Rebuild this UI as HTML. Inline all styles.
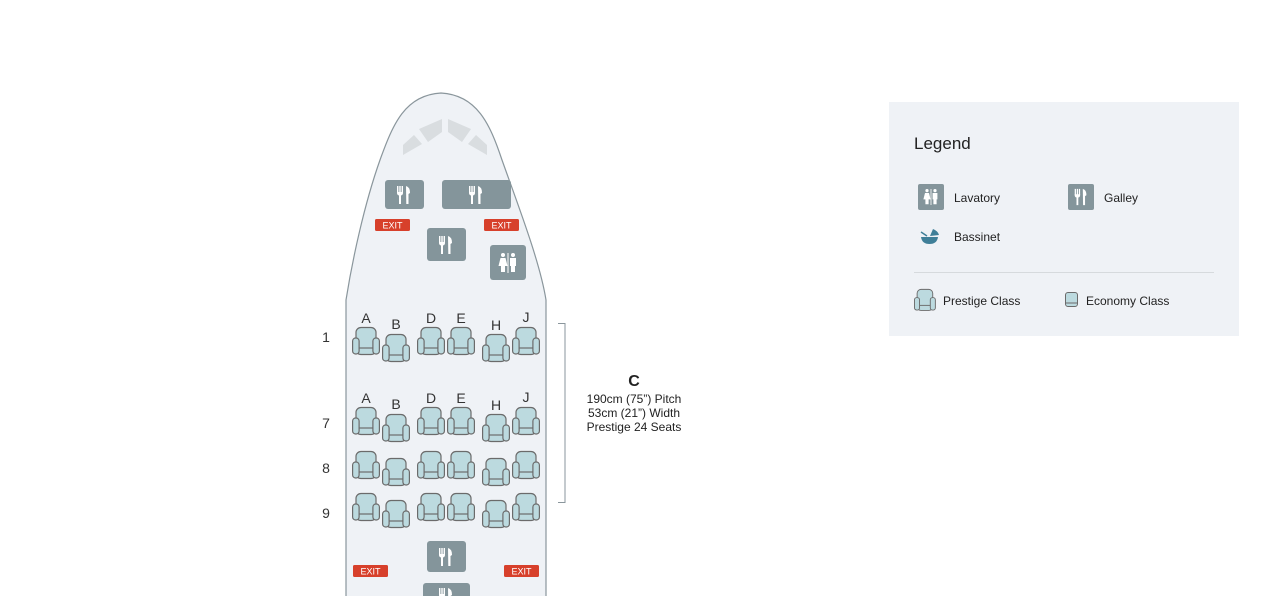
<!DOCTYPE html>
<html><head><meta charset="utf-8"><style>
html,body{margin:0;padding:0;background:#fff;width:1276px;height:596px;overflow:hidden}
svg{display:block;font-family:"Liberation Sans",sans-serif}
</style></head><body>
<svg width="1276" height="596" viewBox="0 0 1276 596" xmlns="http://www.w3.org/2000/svg">
<defs>
<g id="seat">
<rect x="4" y="0.5" width="20" height="27" rx="5" fill="#bcdadf" stroke="#6b6b6b" stroke-width="1.2"/>
<line x1="6" y1="21" x2="22" y2="21" stroke="#6b6b6b" stroke-width="1.2"/>
<rect x="0.6" y="11" width="6.5" height="16" rx="3" fill="#bcdadf" stroke="#6b6b6b" stroke-width="1.2"/>
<rect x="20.9" y="11" width="6.5" height="16" rx="3" fill="#bcdadf" stroke="#6b6b6b" stroke-width="1.2"/>
</g>
<g id="fork" fill="#fff">
<rect x="-7" y="-9" width="1.4" height="7"/><rect x="-4.7" y="-9" width="1.4" height="7"/><rect x="-2.4" y="-9" width="1.4" height="7"/>
<path d="M-7,-3 h6 v1 q0,2 -2,2.5 v8.5 h-2 v-8.5 q-2,-.5 -2,-2.5z"/>
<path d="M2,-9 q4,1 4,7 l-1.5,1 v10 h-2.2z"/>
</g>
<g id="lav" fill="#fff">
<circle cx="-5" cy="-8" r="2"/><path d="M-7.5,-5 h5 l2,8 h-2.5 v6 h-4 v-6 h-2.5z"/>
<rect x="-0.5" y="-10" width="1" height="20"/>
<circle cx="5" cy="-8" r="2"/><path d="M2,-5 h6 v8 h-1 v6 h-4 v-6 h-1z"/>
</g>
</defs>

<!-- fuselage -->
<path d="M346,600 L346,300 C352,262 364,205 380,160 C393,124 405,95 441,93 C477,95 490,124 502,160 C518,205 540,262 546,300 L546,600" fill="#eff2f6" stroke="#8a969c" stroke-width="1.2"/>
<!-- cockpit windows -->
<g fill="#d9dde0">
<path d="M403,145 L414,135 L422,144 L403,155z"/>
<path d="M419,129 L442,119 L442,132 L428,142z"/>
<path d="M448,119 L471,129 L462,142 L448,132z"/>
<path d="M468,144 L476,135 L487,145 L487,155z"/>
</g>

<!-- galleys -->
<g fill="#84959b">
<rect x="385" y="180" width="39" height="29" rx="3"/>
<rect x="442" y="180" width="69" height="29" rx="3"/>
<rect x="427" y="228" width="39" height="33" rx="3"/>
<rect x="490" y="245" width="36" height="35" rx="3"/>
<rect x="427" y="541" width="39" height="31" rx="3"/>
<rect x="423" y="583" width="47" height="20" rx="3"/>
</g>
<use href="#fork" x="404" y="195"/>
<use href="#fork" x="476" y="195"/>
<use href="#fork" x="446" y="245"/>
<use href="#fork" x="446" y="557"/>
<use href="#fork" x="446" y="597"/>
<use href="#lav" x="508" y="263"/>

<!-- exits -->
<g fill="#d7402b">
<rect x="375" y="219" width="35" height="12" rx="1.5"/>
<rect x="484" y="219" width="35" height="12" rx="1.5"/>
<rect x="353" y="565" width="35" height="12" rx="1.5"/>
<rect x="504" y="565" width="35" height="12" rx="1.5"/>
</g>
<g fill="#fff" font-size="9" text-anchor="middle">
<text x="392.5" y="228.5">EXIT</text><text x="501.5" y="228.5">EXIT</text>
<text x="370.5" y="574.5">EXIT</text><text x="521.5" y="574.5">EXIT</text>
</g>

<!-- seat letters -->
<g fill="#333" font-size="14" text-anchor="middle">
<text x="366" y="323">A</text><text x="396" y="329">B</text><text x="431" y="323">D</text><text x="461" y="323">E</text><text x="496" y="330">H</text><text x="526" y="322">J</text>
<text x="366" y="403">A</text><text x="396" y="409">B</text><text x="431" y="403">D</text><text x="461" y="403">E</text><text x="496" y="410">H</text><text x="526" y="402">J</text>
<text x="326" y="342">1</text><text x="326" y="428">7</text><text x="326" y="473">8</text><text x="326" y="518">9</text>
</g>

<!-- seats -->
<g>
<use href="#seat" x="352" y="327"/><use href="#seat" x="382" y="334"/><use href="#seat" x="417" y="327"/><use href="#seat" x="447" y="327"/><use href="#seat" x="482" y="334"/><use href="#seat" x="512" y="327"/>
<use href="#seat" x="352" y="407"/><use href="#seat" x="382" y="414"/><use href="#seat" x="417" y="407"/><use href="#seat" x="447" y="407"/><use href="#seat" x="482" y="414"/><use href="#seat" x="512" y="407"/>
<use href="#seat" x="352" y="451"/><use href="#seat" x="382" y="458"/><use href="#seat" x="417" y="451"/><use href="#seat" x="447" y="451"/><use href="#seat" x="482" y="458"/><use href="#seat" x="512" y="451"/>
<use href="#seat" x="352" y="493"/><use href="#seat" x="382" y="500"/><use href="#seat" x="417" y="493"/><use href="#seat" x="447" y="493"/><use href="#seat" x="482" y="500"/><use href="#seat" x="512" y="493"/>
</g>

<!-- bracket -->
<path d="M558,323.5 H565 V502.5 H558" fill="none" stroke="#8a969c" stroke-width="1"/>
<g fill="#222" text-anchor="middle">
<text x="634" y="386" font-size="16" font-weight="bold">C</text>
<text x="634" y="403" font-size="12">190cm (75”) Pitch</text>
<text x="634" y="417" font-size="12">53cm (21”) Width</text>
<text x="634" y="431" font-size="12">Prestige 24 Seats</text>
</g>

<!-- legend -->
<rect x="889" y="102" width="350" height="234" fill="#eff2f6"/>
<text x="914" y="149" font-size="17" fill="#222">Legend</text>
<rect x="918" y="184" width="26" height="26" rx="2" fill="#84959b"/>
<g transform="translate(931,197) scale(0.8)"><use href="#lav"/></g>
<text x="954" y="202" font-size="12" fill="#222">Lavatory</text>
<rect x="1068" y="184" width="26" height="26" rx="2" fill="#84959b"/>
<g transform="translate(1081,197) scale(0.9)"><use href="#fork"/></g>
<text x="1104" y="202" font-size="12" fill="#222">Galley</text>
<path d="M921,237 h17 q-1,7 -8.5,7 q-7.5,0 -8.5,-7z" fill="#3f7f98"/>
<path d="M930,236 l3,-7 q5,2 6,6z" fill="#3f7f98"/>
<line x1="921" y1="232" x2="927" y2="236" stroke="#3f7f98" stroke-width="1.5"/>
<text x="954" y="241" font-size="12" fill="#222">Bassinet</text>
<line x1="914" y1="272.5" x2="1214" y2="272.5" stroke="#d6dadd" stroke-width="1"/>
<g transform="translate(914,289) scale(0.78)"><use href="#seat"/></g>
<text x="943" y="305" font-size="12" fill="#222">Prestige Class</text>
<rect x="1065.5" y="292.5" width="12" height="14" rx="2.5" fill="#bcdadf" stroke="#6b6b6b" stroke-width="1"/>
<line x1="1066" y1="303" x2="1077" y2="303" stroke="#6b6b6b" stroke-width="1"/>
<text x="1086" y="305" font-size="12" fill="#222">Economy Class</text>
</svg>
</body></html>
